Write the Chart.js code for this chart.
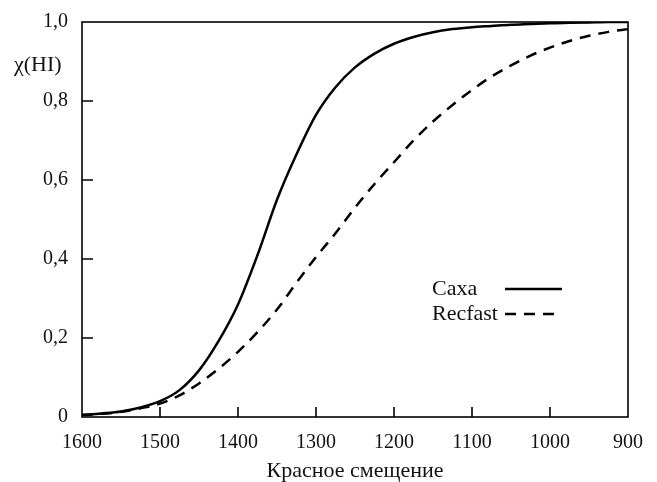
<!DOCTYPE html>
<html>
<head>
<meta charset="utf-8">
<script src="https://cdn.jsdelivr.net/npm/chart.js@4.4.1/dist/chart.umd.min.js"></script>
<style>
  html, body { margin: 0; padding: 0; background: #fff; }
  #wrap { width: 657px; height: 482px; }
</style>
</head>
<body>
<div id="wrap"><canvas id="chart" width="657" height="482"></canvas></div>
<script>
// redshift grid (x axis runs from 1600 down to 900)
var redshift = [1600, 1575, 1550, 1525, 1500, 1475, 1450, 1425, 1400, 1375, 1350, 1325, 1300,
                1275, 1250, 1225, 1200, 1175, 1150, 1125, 1100, 1075, 1050, 1025, 1000, 975, 950, 925, 900];
var caxa = [0.005, 0.009, 0.014, 0.024, 0.040, 0.068, 0.118, 0.192, 0.285, 0.410, 0.550, 0.665, 0.765,
            0.835, 0.885, 0.920, 0.945, 0.962, 0.974, 0.982, 0.987, 0.990, 0.993, 0.995, 0.997, 0.998, 0.999, 1.0, 1.0];
var recfast = [0.005, 0.008, 0.013, 0.022, 0.034, 0.055, 0.085, 0.122, 0.165, 0.215, 0.272, 0.340, 0.405,
               0.465, 0.530, 0.590, 0.645, 0.700, 0.748, 0.790, 0.828, 0.862, 0.890, 0.915, 0.935, 0.952, 0.965, 0.975, 0.982];
var xTicks = [1600, 1500, 1400, 1300, 1200, 1100, 1000, 900];
var yTicks = [0, 0.2, 0.4, 0.6, 0.8, 1.0];
var seriesNames = ['Caxa', 'Recfast'];
var yTitle = 'χ(HI)';
var xTitle = 'Красное смещение';

var FONT = '"Liberation Serif", "Times New Roman", serif';

function pts(vals) {
  var out = [];
  for (var i = 0; i < redshift.length; i++) out.push({x: redshift[i], y: vals[i]});
  return out;
}

// box, inward ticks, y title and the legend inside the plot
var decor = {
  id: 'decor',
  afterDraw: function(c) {
    var ctx = c.ctx, a = c.chartArea;
    var xs = c.scales.x, ys = c.scales.y;
    ctx.save();
    ctx.strokeStyle = '#000';
    ctx.lineWidth = 1.6;
    ctx.strokeRect(a.left, a.top, a.right - a.left, a.bottom - a.top);
    ctx.beginPath();
    for (var i = 1; i < xTicks.length - 1; i++) {
      var px = xs.getPixelForValue(xTicks[i]);
      ctx.moveTo(px, a.bottom);
      ctx.lineTo(px, a.bottom - 10);
    }
    for (var j = 1; j < yTicks.length - 1; j++) {
      var py = ys.getPixelForValue(yTicks[j]);
      ctx.moveTo(a.left, py);
      ctx.lineTo(a.left + 11, py);
    }
    ctx.stroke();

    ctx.fillStyle = '#111';
    ctx.font = '22px ' + FONT;
    ctx.textBaseline = 'middle';
    ctx.textAlign = 'left';
    ctx.fillText(yTitle, 14, 65);

    // legend
    var ds = c.data.datasets;
    var rows = [289, 314];
    for (var k = 0; k < ds.length; k++) {
      ctx.fillText(seriesNames[k], 432, rows[k]);
      ctx.beginPath();
      ctx.lineWidth = 2.5;
      ctx.setLineDash(ds[k].borderDash || []);
      ctx.moveTo(505, rows[k]);
      ctx.lineTo(562, rows[k]);
      ctx.stroke();
    }
    ctx.restore();
  }
};

new Chart(document.getElementById('chart'), {
  type: 'line',
  data: {
    datasets: [{
      label: seriesNames[0],
      data: pts(caxa),
      borderColor: '#000',
      borderWidth: 2.5,
      pointRadius: 0,
      fill: false,
      cubicInterpolationMode: 'monotone'
    }, {
      label: seriesNames[1],
      data: pts(recfast),
      borderColor: '#000',
      borderWidth: 2.5,
      borderDash: [11, 8],
      pointRadius: 0,
      fill: false,
      cubicInterpolationMode: 'monotone'
    }]
  },
  options: {
    responsive: false,
    animation: false,
    devicePixelRatio: 1,
    layout: { padding: { left: 0, top: 14, right: 27, bottom: 0 } },
    plugins: { legend: { display: false }, tooltip: { enabled: false } },
    scales: {
      x: {
        type: 'linear',
        reverse: true,
        min: 900,
        max: 1600,
        afterFit: function(s) { s.height = 65; },
        afterBuildTicks: function(s) { s.ticks = xTicks.map(function(v) { return {value: v}; }); },
        grid: { display: false, drawTicks: false },
        border: { display: false },
        ticks: {
          color: '#111', font: { family: FONT, size: 20 }, padding: 14, maxRotation: 0,
          callback: function(v) { return String(v); }
        },
        title: { display: true, text: xTitle, color: '#111', font: { family: FONT, size: 22, lineHeight: 1.0 }, padding: 0 }
      },
      y: {
        min: 0,
        max: 1,
        afterFit: function(s) { s.width = 82; },
        afterBuildTicks: function(s) { s.ticks = yTicks.map(function(v) { return {value: v}; }); },
        grid: { display: false, drawTicks: false },
        border: { display: false },
        ticks: {
          color: '#111',
          font: { family: FONT, size: 20, lineHeight: 0.8 },
          padding: 14,
          callback: function(v) { return v === 0 ? '0' : v.toFixed(1).replace('.', ','); }
        }
      }
    }
  },
  plugins: [decor]
});
</script>
</body>
</html>
